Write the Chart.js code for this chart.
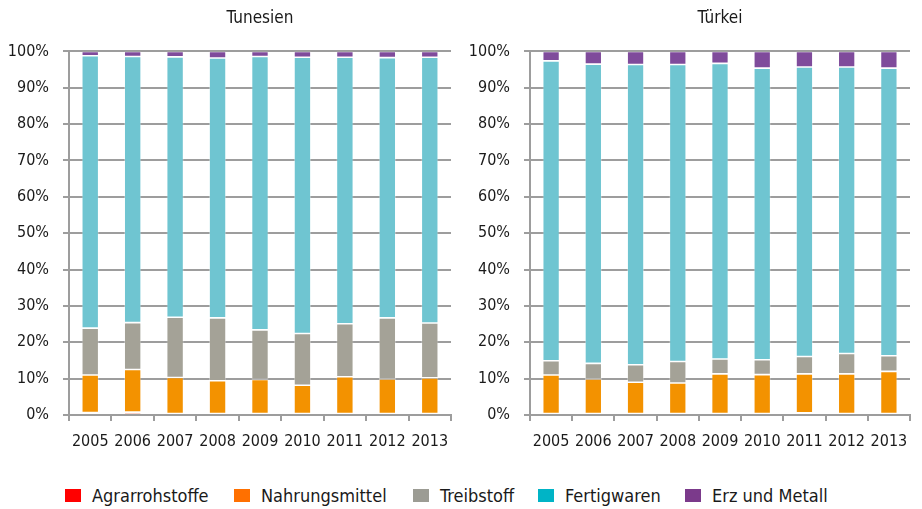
<!DOCTYPE html>
<html>
<head>
<meta charset="utf-8">
<script src="https://cdn.jsdelivr.net/npm/chart.js@4.4.0/dist/chart.umd.min.js"></script>
<style>
  html, body { margin:0; padding:0; background:#fff; width:922px; height:509px; overflow:hidden; }
  #left { position:absolute; left:0; top:0; }
  #right { position:absolute; left:461px; top:0; }
  .leg { position:absolute; top:483px; height:24px; display:flex; align-items:center;
         font-family:"DejaVu Sans Condensed","DejaVu Sans",sans-serif; font-size:18px; color:#1a1a1a; white-space:nowrap; }
  .leg span.box { display:inline-block; width:16px; height:13px; margin-right:11px; }
</style>
</head>
<body>
<canvas id="left" width="461" height="470"></canvas>
<canvas id="right" width="461" height="470"></canvas>
<div id="legend"></div>
<script>
const years = ["2005","2006","2007","2008","2009","2010","2011","2012","2013"];
const seriesNames = ["Agrarrohstoffe","Nahrungsmittel","Treibstoff","Fertigwaren","Erz und Metall"];
const yTicks = [0,10,20,30,40,50,60,70,80,90,100];

// Tunesien (share in %)
const tunAgrar   = [0.7, 0.8, 0.4, 0.4, 0.4, 0.4, 0.4, 0.4, 0.4];
const tunNahrung = [10.3, 11.7, 9.9, 9.0, 9.4, 7.8, 10.1, 9.5, 9.8];
const tunTreib   = [12.9, 12.9, 16.6, 17.3, 13.6, 14.2, 14.6, 16.8, 15.1];
const tunFertig  = [74.9, 73.2, 71.6, 71.5, 75.2, 76.0, 73.3, 71.6, 73.1];
const tunErz     = [1.2, 1.4, 1.5, 1.8, 1.4, 1.6, 1.6, 1.7, 1.6];

// Türkei (share in %)
const turAgrar   = [0.4, 0.4, 0.4, 0.4, 0.4, 0.4, 0.6, 0.4, 0.4];
const turNahrung = [10.6, 9.5, 8.6, 8.4, 10.9, 10.7, 10.7, 10.9, 11.6];
const turTreib   = [3.9, 4.3, 4.8, 5.9, 4.1, 4.1, 4.8, 5.6, 4.3];
const turFertig  = [82.5, 82.3, 82.6, 81.7, 81.3, 80.2, 79.6, 78.8, 79.1];
const turErz     = [2.6, 3.5, 3.6, 3.6, 3.3, 4.6, 4.3, 4.3, 4.6];

const barColors = ["#ea4a1c", "#f39200", "#a4a297", "#6fc5d1", "#7f4b9b"];
const legendColors = ["#ff0000", "#ff7000", "#9c9c94", "#00b4c6", "#7b3a8b"];

const FONT = "'DejaVu Sans Condensed','DejaVu Sans',sans-serif";
const GRID = "#9d9d9d";
const TXT = "#1a1a1a";

function makeChart(id, title, series, rightPad) {
  const ctx = document.getElementById(id);
  return new Chart(ctx, {
    type: 'bar',
    data: {
      labels: years,
      datasets: series.map((d, i) => ({
        label: seriesNames[i],
        data: d,
        backgroundColor: barColors[i],
        borderColor: 'rgba(255,255,255,0.45)',
        borderWidth: 0.8,
        borderSkipped: false,
        barPercentage: 0.8,
        categoryPercentage: 0.5
      }))
    },
    options: {
      responsive: false,
      devicePixelRatio: 1,
      animation: false,
      layout: { padding: { top: 8, right: rightPad, left: 0, bottom: 0 } },
      plugins: {
        legend: { display: false },
        tooltip: { enabled: false },
        title: {
          display: true, text: title, color: TXT, fullSize: false,
          font: { family: FONT, size: 17, weight: 'normal' },
          padding: { top: 0, bottom: 23 }
        }
      },
      scales: {
        x: {
          stacked: true,
          grid: { display: true, offset: true, drawOnChartArea: false, color: GRID, lineWidth: 2, tickLength: 6 },
          border: { display: true, color: GRID, width: 2 },
          ticks: { color: TXT, font: { family: FONT, size: 16 }, padding: 11, maxRotation: 0, autoSkip: false },
          afterFit: s => { s.height = 55; }
        },
        y: {
          stacked: true, min: 0, max: 100,
          afterBuildTicks: s => { s.ticks = yTicks.map(v => ({ value: v })); },
          grid: { color: GRID, lineWidth: 2, tickLength: 6 },
          border: { display: true, color: GRID, width: 2 },
          ticks: { color: TXT, font: { family: FONT, size: 16 }, padding: 14, callback: v => v + '%' },
          afterFit: s => { s.width = 69; }
        }
      }
    }
  });
}

makeChart('left', 'Tunesien', [tunAgrar, tunNahrung, tunTreib, tunFertig, tunErz], 10);
makeChart('right', 'Türkei', [turAgrar, turNahrung, turTreib, turFertig, turErz], 12);

const legendX = [65, 234, 413, 538, 685];
const legend = document.getElementById('legend');
seriesNames.forEach((n, i) => {
  const d = document.createElement('div');
  d.className = 'leg';
  d.style.left = legendX[i] + 'px';
  d.innerHTML = '<span class="box" style="background:' + legendColors[i] + '"></span>' + n;
  legend.appendChild(d);
});
</script>
</body>
</html>
